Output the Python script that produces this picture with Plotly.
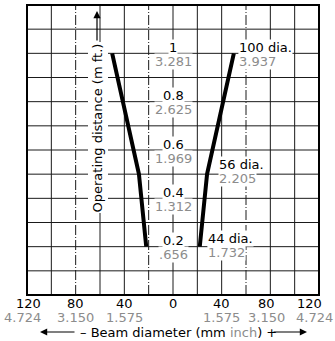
import plotly.graph_objects as go

# ---- data ----
distance_m = [0.2, 0.5, 1.0]
beam_dia_mm = [44, 56, 100]
beam_dia_in = ["1.732", "2.205", "3.937"]

dist_vals = [0.2, 0.4, 0.6, 0.8, 1.0]
dist_m_labels = ["0.2", "0.4", "0.6", "0.8", "1"]
dist_ft_labels = [".656", "1.312", "1.969", "2.625", "3.281"]

x_tick_vals = [-120, -80, -40, 0, 40, 80, 120]
x_tick_mm = ["120", "80", "40", "0", "40", "80", "120"]
x_tick_in = ["4.724", "3.150", "1.575", "", "1.575", "3.150", "4.724"]

x_grid = [-100, -80, -60, -40, -20, 0, 20, 40, 60, 80, 100]
y_grid = [0.1, 0.2, 0.3, 0.4, 0.5, 0.6, 0.7, 0.8, 0.9, 1.0, 1.1]
dashed_x = [-80, -20, 60]

# ---- style ----
FONT = "DejaVu Sans, sans-serif"
FS = 13
GRAY = "#8c8c8c"
W, H = 335, 341
ML, MR, MT, MB = 27, 16, 5, 46
PW, PH = W - ML - MR, H - MT - MB


def pxx(px):
    return (px - ML) / PW


def pxy(py):
    return (H - MB - py) / PH


fig = go.Figure()

# curves (right and left halves of the beam)
fig.add_trace(go.Scatter(x=[d / 2 for d in beam_dia_mm], y=distance_m, mode="lines",
                         line=dict(color="black", width=4), hoverinfo="skip"))
fig.add_trace(go.Scatter(x=[-d / 2 for d in beam_dia_mm], y=distance_m, mode="lines",
                         line=dict(color="black", width=4), hoverinfo="skip"))

shapes = []
for gx in x_grid:
    shapes.append(dict(type="line", xref="x", yref="paper", x0=gx, x1=gx, y0=0, y1=1,
                       line=dict(color="#1a1a1a", width=1,
                                 dash="10px,2px,1px,2px" if gx in dashed_x else "solid"),
                       layer="below"))
for gy in y_grid:
    shapes.append(dict(type="line", xref="paper", yref="y", x0=0, x1=1, y0=gy, y1=gy,
                       line=dict(color="#1a1a1a", width=1), layer="below"))
# white backing for the y-axis title (below the curves)
shapes.append(dict(type="rect", xref="paper", yref="paper", x0=pxx(88), x1=pxx(108),
                   y0=pxy(213), y1=pxy(42), fillcolor="white", line=dict(width=0),
                   layer="below"))
shapes.append(dict(type="rect", xref="paper", yref="paper", x0=0, x1=1, y0=0, y1=1,
                   line=dict(color="black", width=2)))

ann = []
# center distance labels
for v, m, ft in zip(dist_vals, dist_m_labels, dist_ft_labels):
    ann.append(dict(x=0, y=v, xref="x", yref="y", text=m, showarrow=False,
                    font=dict(size=FS, color="black", family=FONT), bgcolor="white",
                    yshift=6, borderpad=0))
    ann.append(dict(x=0, y=v, xref="x", yref="y", text=ft, showarrow=False,
                    font=dict(size=FS, color=GRAY, family=FONT), bgcolor="white",
                    yshift=-8, borderpad=0))

# beam diameter labels
dia_xshift = [7, 11, 4]
dia_yshift = [(8, -6), (10, -4), (6, -8)]
for d, dist, dinch, xs, (ys1, ys2) in zip(beam_dia_mm, distance_m, beam_dia_in, dia_xshift, dia_yshift):
    ann.append(dict(x=d / 2, y=dist, xref="x", yref="y", text=f"{d} dia.", showarrow=False,
                    xanchor="left", font=dict(size=FS, color="black", family=FONT),
                    bgcolor="white", xshift=xs, yshift=ys1, borderpad=0))
    ann.append(dict(x=d / 2, y=dist, xref="x", yref="y", text=dinch, showarrow=False,
                    xanchor="left", font=dict(size=FS, color=GRAY, family=FONT),
                    bgcolor="white", xshift=xs, yshift=ys2, borderpad=0))

# x tick labels
tick_xshift = [1, 0, 0, 0, 0, -4, -10]
gray_xshift = [-5, 0, 0, 0, 0, -4, -5]
for tv, mm, inch, xs, gxs in zip(x_tick_vals, x_tick_mm, x_tick_in, tick_xshift, gray_xshift):
    ann.append(dict(x=tv, y=0, xref="x", yref="paper", text=mm, showarrow=False,
                    font=dict(size=FS, color="black", family=FONT), yanchor="middle",
                    yshift=-8, xshift=xs))
    if inch:
        ann.append(dict(x=tv, y=0, xref="x", yref="paper", text=inch, showarrow=False,
                        font=dict(size=FS, color=GRAY, family=FONT), yanchor="middle",
                        yshift=-22, xshift=gxs))

# x axis title and arrows
ann.append(dict(x=pxx(78), y=pxy(332), xref="paper", yref="paper", xanchor="left",
                yanchor="middle", showarrow=False,
                text=f"– Beam diameter (mm <span style='color:{GRAY}'>inch</span>) +",
                font=dict(size=FS, color="black", family=FONT)))
ann.append(dict(x=pxx(40), y=pxy(332), xref="paper", yref="paper", text="", showarrow=True,
                ax=36, ay=0, arrowhead=2, arrowsize=1.2, arrowwidth=1.2, arrowcolor="black"))
ann.append(dict(x=pxx(307), y=pxy(332), xref="paper", yref="paper", text="", showarrow=True,
                ax=-35, ay=0, arrowhead=2, arrowsize=1.2, arrowwidth=1.2, arrowcolor="black"))

# y axis title with arrow
ann.append(dict(x=pxx(89), y=pxy(128), xref="paper", yref="paper", showarrow=False,
                text="Operating distance (m ft.)", textangle=-90,
                font=dict(size=FS, color="black", family=FONT), borderpad=0))
ann.append(dict(x=pxx(97), y=pxy(11), xref="paper", yref="paper", text="", showarrow=True,
                ax=0, ay=31, arrowhead=2, arrowsize=1.2, arrowwidth=1.2, arrowcolor="black"))

fig.update_layout(
    width=W, height=H,
    margin=dict(l=ML, r=MR, t=MT, b=MB),
    paper_bgcolor="white", plot_bgcolor="white",
    showlegend=False,
    xaxis=dict(range=[-120, 120], showgrid=False, zeroline=False, showticklabels=False,
               ticks="", fixedrange=True),
    yaxis=dict(range=[0, 1.2], showgrid=False, zeroline=False, showticklabels=False,
               ticks="", fixedrange=True),
    shapes=shapes,
    annotations=ann,
)

fig.write_html("out.html")
